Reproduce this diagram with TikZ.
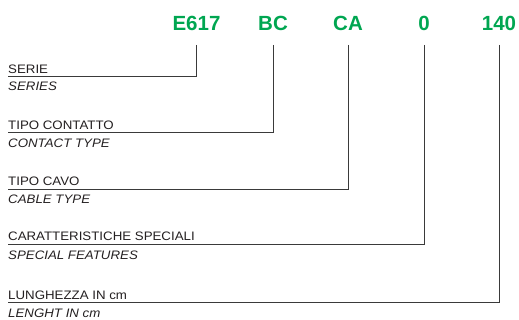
\documentclass[tikz,border=0pt]{standalone}
\usepackage{fontspec}
\setmainfont{Liberation Sans}
\newfontfamily\labfont[FakeStretch=1.08]{Liberation Sans}
\definecolor{codegreen}{HTML}{00A651}
\definecolor{ink}{HTML}{231F20}
\definecolor{linegray}{HTML}{3A3A3A}
\begin{document}
\begin{tikzpicture}[x=1pt,y=-1pt,
  code/.style={anchor=base,inner sep=0pt,text=codegreen,font=\fontsize{20.5}{22}\selectfont\bfseries},
  lab/.style={anchor=base west,inner sep=0pt,text=ink,font=\labfont\fontsize{12.3}{14}\selectfont},
  tra/.style={anchor=base west,inner sep=0pt,text=ink,font=\labfont\fontsize{12.3}{14}\selectfont\itshape},
  conn/.style={draw=linegray,line width=0.9pt}]
\useasboundingbox (0,0) rectangle (519,320);
\node[code] (c1) at (196.5,31) {E617};
\node[code] (c2) at (273,31) {BC};
\node[code] (c3) at (348,31) {CA};
\node[code] (c4) at (424,31) {0};
\node[code] (c5) at (499,31) {140};
\node[lab] (l1) at (8,73.3) {SERIE};
\node[tra] (t1) at (8,90.5) {SERIES};
\node[lab] (l2) at (8,129.7) {TIPO CONTATTO};
\node[tra] (t2) at (8,147.3) {CONTACT TYPE};
\node[lab] (l3) at (8,186) {TIPO CAVO};
\node[tra] (t3) at (8,204) {CABLE TYPE};
\node[lab] (l4) at (8,241) {CARATTERISTICHE SPECIALI};
\node[tra] (t4) at (8,259) {SPECIAL FEATURES};
\node[lab] (l5) at (8,299.5) {LUNGHEZZA IN cm};
\node[tra] (t5) at (8,317.3) {LENGHT IN cm};
\coordinate (u1) at (8,76);
\coordinate (u2) at (8,132.7);
\coordinate (u3) at (8,189);
\coordinate (u4) at (8,244);
\coordinate (u5) at (8,302.7);
\draw[conn] ([yshift=-14pt]c1.base) |- (u1);
\draw[conn] ([yshift=-14pt]c2.base) |- (u2);
\draw[conn] ([yshift=-14pt]c3.base) |- (u3);
\draw[conn] ([yshift=-14pt]c4.base) |- (u4);
\draw[conn] ([yshift=-14pt]c5.base) |- (u5);
\end{tikzpicture}
\end{document}
